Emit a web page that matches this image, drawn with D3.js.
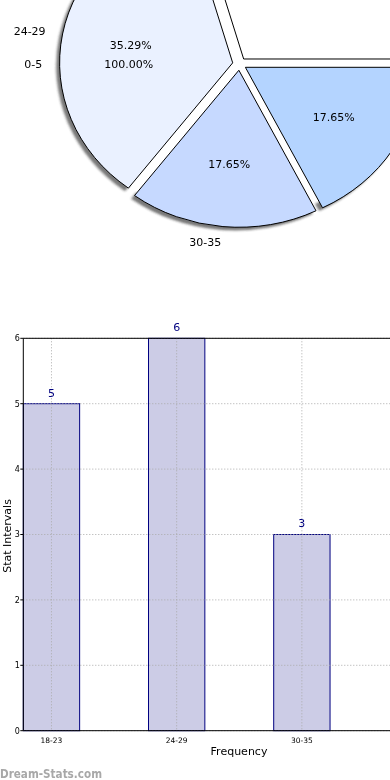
<!doctype html>
<html>
<head>
<style>
    body { margin: 0; background: #fff; }
    svg { display: block; font-family: "DejaVu Sans", sans-serif; }
</style>
<script src="https://d3js.org/d3.v7.min.js"></script>
</head>
<body>

    <svg id="chart" width="390" height="780"></svg>

    <script>

        // Pie data (matplotlib style: starts at 3 o'clock, counter-clockwise)
        var pieLabels = ["18-23", "24-29", "30-35", "36-41"];
        var pieValues = [5, 6, 3, 3];
        var pieColors = ["#ffffff", "#eaf1ff", "#c6d9ff", "#b4d4ff"];
        // second single-slice pie whose labels land on top of the first
        var extraLabels = ["0-5"];
        var extraValues = [1];

        // Bar data
        var categories = ["18-23", "24-29", "30-35"];
        var frequencies = [5, 6, 3];
        var yTicks = [0, 1, 2, 3, 4, 5, 6];

        var svg = d3.select("#chart");

        // ---------- pie ----------
        var cx = 239.5, cy = 64, rx = 173, ry = 157, explode = 0.04;

        var pie = d3.pie().sort(null)
          .startAngle(Math.PI / 2)
          .endAngle(Math.PI / 2 - 2 * Math.PI);
        var arc = d3.arc().innerRadius(0).outerRadius(1);
        var rim = d3.arc().innerRadius(0.95).outerRadius(1);

        var slices = pie(pieValues);
        var extra = pie(extraValues);
        var total = d3.sum(pieValues);

        function mid(d) { return (d.startAngle + d.endAngle) / 2; }

        var defs = svg.append("defs");
        defs.append("filter").attr("id", "blur")
          .attr("x", "-5%").attr("y", "-5%").attr("width", "110%").attr("height", "110%")
          .append("feGaussianBlur").attr("stdDeviation", 0.8);

        // shadows along the rim (blurred in pixel space, shapes drawn in unit space)
        var sg = svg.append("g").attr("filter", "url(#blur)")
          .append("g")
          .attr("transform", "translate(" + cx + "," + cy + ") scale(" + rx + "," + ry + ")");
        sg.selectAll("path")
          .data(slices)
          .enter()
          .append("path")
            .attr("d", rim)
            .attr("transform", function (d) {
              var a = mid(d);
              return "translate(" + (explode * Math.sin(a) - 0.02) + "," + (-explode * Math.cos(a) + 0.02) + ")";
            })
            .attr("fill", "#333")
            .attr("fill-opacity", 0.65);

        // wedges
        var pg = svg.append("g")
          .attr("transform", "translate(" + cx + "," + cy + ") scale(" + rx + "," + ry + ")");
        pg.selectAll("path")
          .data(slices)
          .enter()
          .append("path")
            .attr("d", arc)
            .attr("transform", function (d) {
              var a = mid(d);
              return "translate(" + (explode * Math.sin(a)) + "," + (-explode * Math.cos(a)) + ")";
            })
            .attr("fill", function (d, i) { return pieColors[i]; })
            .attr("stroke", "#000")
            .attr("stroke-width", 1)
            .attr("vector-effect", "non-scaling-stroke");

        function drawPieText(data, labels, totalVal) {
          var g = svg.append("g").attr("font-size", "11px").attr("fill", "#000");
          data.forEach(function (d, i) {
            var a = mid(d);
            var s = Math.sin(a), c = Math.cos(a);
            var lx = cx + (explode + 1.1) * rx * s;
            var ly = cy - (explode + 1.1) * ry * c;
            g.append("text")
              .attr("x", lx).attr("y", ly).attr("dy", "0.35em")
              .attr("text-anchor", s > 0 ? "start" : "end")
              .text(labels[i]);
            var px = cx + (explode + 0.6) * rx * s;
            var py = cy - (explode + 0.6) * ry * c;
            g.append("text")
              .attr("x", px).attr("y", py).attr("dy", "0.35em")
              .attr("text-anchor", "middle")
              .text((d.value / totalVal * 100).toFixed(2) + "%");
          });
        }
        drawPieText(slices, pieLabels, total);
        drawPieText(extra, extraLabels, d3.sum(extraValues));

        // ---------- bars ----------
        var left = 23.3, unit = 125.2, barW = 0.45;
        var x = d3.scaleLinear().domain([-barW / 2, 2.85]).range([left, left + (2.85 + barW / 2) * unit]);
        var y = d3.scaleLinear().domain([0, 6]).range([730.7, 338.3]);

        var bg = svg.append("g");

        bg.selectAll("rect")
          .data(frequencies)
          .enter()
          .append("rect")
            .attr("x", function (d, i) { return x(i - barW / 2); })
            .attr("y", function (d) { return y(d); })
            .attr("width", x(barW) - x(0))
            .attr("height", function (d) { return y(0) - y(d); })
            .attr("fill", "#ccccE6")
            .attr("stroke", "#000080")
            .attr("stroke-width", 1);

        // grid
        var grid = bg.append("g").attr("stroke", "#aaaaaa").attr("stroke-dasharray", "1,2");
        grid.selectAll("line.h")
          .data(yTicks)
          .enter()
          .append("line")
            .attr("x1", left).attr("x2", 390)
            .attr("y1", function (d) { return y(d); })
            .attr("y2", function (d) { return y(d); });
        grid.selectAll("line.v")
          .data(categories)
          .enter()
          .append("line")
            .attr("x1", function (d, i) { return x(i); })
            .attr("x2", function (d, i) { return x(i); })
            .attr("y1", y(6)).attr("y2", y(0));

        // spines
        bg.append("line").attr("x1", left).attr("x2", 390).attr("y1", y(6)).attr("y2", y(6)).attr("stroke", "#000");
        bg.append("line").attr("x1", left).attr("x2", 390).attr("y1", y(0)).attr("y2", y(0)).attr("stroke", "#000");
        bg.append("line").attr("x1", left).attr("x2", left).attr("y1", y(6)).attr("y2", y(0)).attr("stroke", "#000");

        // y ticks and labels
        var yt = bg.append("g").attr("font-size", "8px").attr("fill", "#000");
        yTicks.forEach(function (t) {
          bg.append("line").attr("x1", left - 3).attr("x2", left)
            .attr("y1", y(t)).attr("y2", y(t)).attr("stroke", "#000");
          yt.append("text").attr("x", left - 3.5).attr("y", y(t)).attr("dy", "0.35em")
            .attr("text-anchor", "end").text(t);
        });

        // x tick labels
        var xt = bg.append("g").attr("font-size", "7.5px").attr("fill", "#000");
        categories.forEach(function (c, i) {
          xt.append("text").attr("x", x(i)).attr("y", 740).attr("dy", "0.35em")
            .attr("text-anchor", "middle").text(c);
        });

        // value labels
        bg.selectAll("text.val")
          .data(frequencies)
          .enter()
          .append("text")
            .attr("x", function (d, i) { return x(i); })
            .attr("y", function (d) { return y(d) - 11; })
            .attr("dy", "0.35em")
            .attr("text-anchor", "middle")
            .attr("font-size", "11px")
            .attr("fill", "#000080")
            .text(function (d) { return d; });

        // axis titles
        svg.append("text").attr("x", 239).attr("y", 751).attr("dy", "0.35em")
          .attr("text-anchor", "middle").attr("font-size", "11px").text("Frequency");
        svg.append("text").attr("transform", "translate(7,536) rotate(-90)").attr("dy", "0.35em")
          .attr("text-anchor", "middle").attr("font-size", "11px").text("Stat Intervals");

        // watermark
        svg.append("text").attr("x", 0).attr("y", 777.5)
          .attr("font-size", "13px").attr("font-weight", "bold").attr("fill", "#a8a8a8")
          .attr("textLength", 102).attr("lengthAdjust", "spacingAndGlyphs")
          .text("Dream-Stats.com");

    </script>

</body>
</html>
